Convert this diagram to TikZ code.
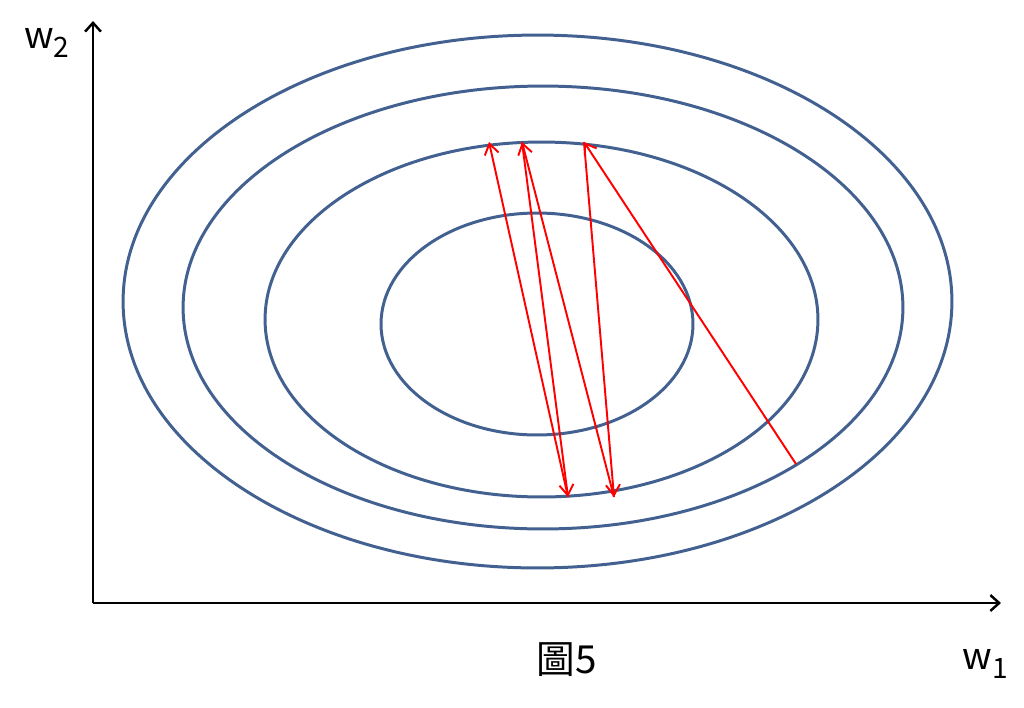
\documentclass[tikz,border=0pt]{standalone}
\usepackage{fontspec}
\setmainfont{Noto Sans CJK TC}
\usetikzlibrary{arrows.meta}
\definecolor{contour}{RGB}{66,97,145}
\tikzset{
  axis/.style={line width=1.4pt,-{Straight Barb[length=5pt,width=9pt]}},
  level/.style={contour,line width=1.7pt},
  descent/.style={red,line width=1.1pt,-{Straight Barb[length=6pt,width=8pt]}},
  lab/.style={font=\fontsize{21pt}{21pt}\selectfont,inner sep=0pt}
}
\begin{document}
\begin{tikzpicture}[x=0.02cm,y=-0.02cm]
      \useasboundingbox (0,0) rectangle (1024,707);

      % axes
      \coordinate (O) at (93,603);
      \coordinate (xend) at (1001,603);
      \coordinate (yend) at (93,21);
      \draw[axis] (O) -- (xend);
      \draw[axis] (O) -- (yend);
      \node[lab] (wtwo) at (47,43) {w\raisebox{-0.45ex}{\fontsize{16pt}{16pt}\selectfont 2}};
      \node[lab] (wone) at (985,664) {w\raisebox{-0.45ex}{\fontsize{16pt}{16pt}\selectfont 1}};
      \node[lab,font=\fontsize{22pt}{22pt}\selectfont] (fig) at (567,660) {圖5};

      % contours
      \draw[level] (537.5,301.5) ellipse [x radius=8.29cm, y radius=5.33cm];
      \draw[level] (543,307.5) ellipse [x radius=7.2cm, y radius=4.43cm];
      \draw[level] (541.5,319.5) ellipse [x radius=5.53cm, y radius=3.55cm];
      \draw[level] (537,324) ellipse [x radius=3.12cm, y radius=2.22cm];

      % steps
      \coordinate (s0) at (796,464);
      \coordinate (s1) at (584,142);
      \coordinate (s2) at (614,497);
      \coordinate (s3) at (522,142);
      \coordinate (s4) at (568,497);
      \coordinate (s5) at (489,142);
      \draw[descent] (s0) -- (s1);
      \draw[descent] (s1) -- (s2);
      \draw[descent] (s2) -- (s3);
      \draw[descent] (s3) -- (s4);
      \draw[descent] (s4) -- (s5);
    \end{tikzpicture}
\end{document}
